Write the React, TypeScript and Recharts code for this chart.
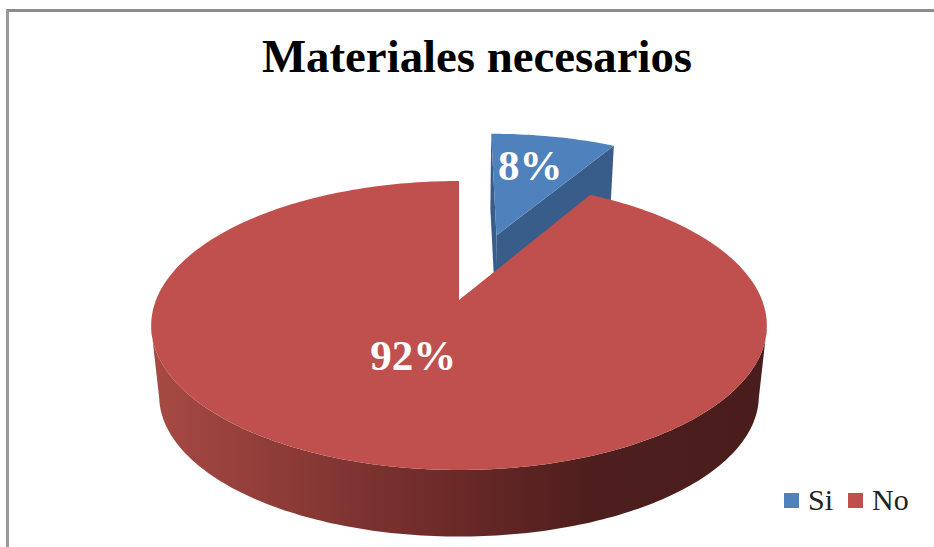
import React from "react";
import { PieChart, Pie, Cell, Legend } from "recharts";

const categories = ["Si", "No"];
const shares = [8.33, 91.67];
const chartTitle = "Materiales necesarios";

const palette = ["#4f81bd", "#c0504d"];
const wallPalette = ["#385d8a", "url(#redWall)"];
const explodeAmount = [0.52, 0];
const labelNudge = [[9, -27], [-12, -3]];

const rows = categories.map((name, i) => ({ name, value: shares[i] }));

const K = 0.1765; // perspective strength
const SQUASH = 0.462; // vertical foreshortening
const DEPTH = 71; // wall height
const BOTTOM_SCALE = 0.974;

type Pt = [number, number];
function project(cx: number, cy: number, R: number, u: number, v: number, bottom: boolean): Pt {
  const d = 1 + K * v;
  const s = bottom ? BOTTOM_SCALE : 1;
  return [cx + (s * R * u) / d, cy + (bottom ? DEPTH : 0) - (s * R * SQUASH * v) / d];
}
const rad = (a: number) => (a * Math.PI) / 180;
const toD = (pts: Pt[]) =>
  "M" + pts.map((p) => `${p[0].toFixed(2)},${p[1].toFixed(2)}`).join("L") + "Z";

function offsetFor(index: number, startAngle: number, endAngle: number) {
  const mid = rad((startAngle + endAngle) / 2);
  const e = explodeAmount[index] ?? 0;
  return [e * Math.cos(mid), e * Math.sin(mid)];
}

function Slice3D(props: any) {
  const { cx, cy, outerRadius: R, startAngle, endAngle, index, fill } = props;
  const [ou, ov] = offsetFor(index, startAngle, endAngle);
  const P = (a: number | null, bottom: boolean): Pt =>
    a === null
      ? project(cx, cy, R, ou, ov, bottom)
      : project(cx, cy, R, ou + Math.cos(rad(a)), ov + Math.sin(rad(a)), bottom);
  const step = (endAngle - startAngle) / Math.max(8, Math.round(Math.abs(endAngle - startAngle)));
  const angles: number[] = [];
  for (let i = 0; ; i++) {
    const a = startAngle + step * i;
    if ((step > 0 && a >= endAngle) || (step < 0 && a <= endAngle)) break;
    angles.push(a);
  }
  angles.push(endAngle);
  const top = [P(null, false), ...angles.map((a) => P(a, false))];
  const wallFill = wallPalette[index];
  const walls: string[] = [];
  const front = angles.filter((a) => ov + Math.sin(rad(a)) <= -K);
  if (front.length > 1) {
    walls.push(
      toD([...front.map((a) => P(a, false)), ...[...front].reverse().map((a) => P(a, true))])
    );
  }
  if (explodeAmount[index]) {
    [startAngle, endAngle].forEach((a) => {
      walls.push(toD([P(null, false), P(a, false), P(a, true), P(null, true)]));
    });
  }
  return (
    <g>
      {walls.map((d, i) => (
        <path key={i} d={d} fill={wallFill} stroke="none" />
      ))}
      <path d={toD(top)} fill={fill} stroke="none" />
    </g>
  );
}

function sliceLabel(props: any) {
  const { cx, cy, outerRadius: R, startAngle, endAngle, index, percent } = props;
  const [ou, ov] = offsetFor(index, startAngle, endAngle);
  const mid = rad((startAngle + endAngle) / 2);
  const [x, y] = project(cx, cy, R, ou + 0.4 * Math.cos(mid), ov + 0.4 * Math.sin(mid), false);
  const n = labelNudge[index] ?? [0, 0];
  return (
    <text
      x={x + n[0]}
      y={y + n[1]}
      fill="#ffffff"
      textAnchor="middle"
      dominantBaseline="central"
      style={{ fontFamily: "'Liberation Serif', serif", fontWeight: 700, fontSize: 43 }}
    >
      {`${Math.round(percent * 100)}%`}
    </text>
  );
}

function LegendBox(props: any) {
  const items = props.payload ?? [];
  return (
    <div style={{ display: "flex", alignItems: "center", fontFamily: "'Liberation Serif', serif", fontSize: 30, color: "#222222", lineHeight: "30px" }}>
      {items.map((it: any, i: number) => (
        <span key={i} style={{ display: "inline-flex", alignItems: "center", marginRight: 15 }}>
          <span style={{ width: 15, height: 15, background: it.color, display: "inline-block", marginRight: 9 }} />
          {it.value}
        </span>
      ))}
    </div>
  );
}

export default function App() {
  return (
    <div style={{ position: "absolute", left: 0, top: 0, width: 934, height: 547, background: "#ffffff", overflow: "hidden" }}>
      <div style={{ position: "absolute", left: 6, top: 9, width: 940, height: 560, borderTop: "3px solid #8c8c8c", borderLeft: "3px solid #9a9a9a", boxSizing: "border-box" }} />
      <PieChart width={934} height={547} margin={{ top: 0, right: 0, bottom: 0, left: 0 }} style={{ position: "absolute", left: 0, top: 0 }}>
        <defs>
          <linearGradient id="redWall" gradientUnits="userSpaceOnUse" x1="150" y1="0" x2="766" y2="0">
            <stop offset="0" stopColor="#a84a44" />
            <stop offset="0.45" stopColor="#702c2a" />
            <stop offset="0.72" stopColor="#4d1e1d" />
            <stop offset="1" stopColor="#4a1d1d" />
          </linearGradient>
        </defs>
        <text
          x={477}
          y={72}
          textAnchor="middle"
          fill="#000000"
          style={{ fontFamily: "'Liberation Serif', serif", fontWeight: 700, fontSize: 46.8 }}
        >
          {chartTitle}
        </text>
        <Pie
          data={rows}
          dataKey="value"
          nameKey="name"
          cx={459}
          cy={300}
          innerRadius={0}
          outerRadius={303}
          startAngle={90}
          endAngle={-270}
          stroke="none"
          isAnimationActive={false}
          shape={Slice3D}
          label={sliceLabel}
          labelLine={false}
        >
          {rows.map((r, i) => (
            <Cell key={r.name} fill={palette[i]} />
          ))}
        </Pie>
        <Legend
          content={LegendBox}
          itemSorter={null}
          wrapperStyle={{ position: "absolute", left: 784, top: 485, width: 150, bottom: "auto", right: "auto" }}
        />
      </PieChart>
    </div>
  );
}
